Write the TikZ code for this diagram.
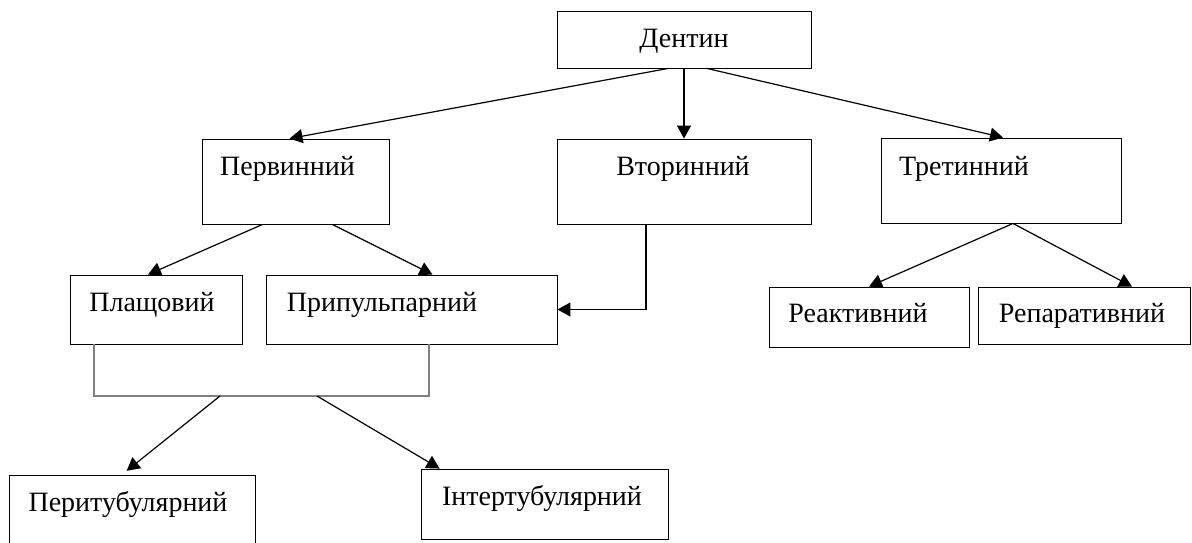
\documentclass[tikz,border=0pt]{standalone}
\usepackage{fontspec}
\setmainfont{Liberation Serif}
\usetikzlibrary{positioning, arrows.meta, calc}

\begin{document}
\begin{tikzpicture}[
  x=1pt, y=-1pt,
  box/.style={draw, line width=0.9pt, inner sep=0pt},
  txt/.style={inner sep=0pt, text height=18.5pt, text depth=0pt, font=\fontsize{28}{33}\selectfont},
  arrow/.style={-{Triangle[length=13pt, width=14pt]}, line width=1.2pt},
  link/.style={line width=1.2pt, draw=gray}
]
  \useasboundingbox (0,0) rectangle (1192,542);

  % boxes
  \node[box, minimum width=254pt, minimum height=57pt] (dent) at (684,39.5) {};
  \node[box, minimum width=187pt, minimum height=85pt] (perv) at (295.5,181.5) {};
  \node[box, minimum width=254pt, minimum height=85pt] (vtor) at (684,181.5) {};
  \node[box, minimum width=240pt, minimum height=85pt] (tret) at (1001,180.5) {};
  \node[box, minimum width=172pt, minimum height=69pt] (plasch) at (156,309.5) {};
  \node[box, minimum width=291pt, minimum height=69pt] (prip) at (411.5,309.5) {};
  \node[box, minimum width=200pt, minimum height=60pt] (react) at (869,317) {};
  \node[box, minimum width=212pt, minimum height=57pt] (repar) at (1084,315.5) {};
  \node[box, minimum width=246pt, minimum height=72pt] (peri) at (132,511) {};
  \node[box, minimum width=247pt, minimum height=70pt] (inter) at (544.5,504) {};

  % texts
  \node[txt] (dentT) at (684,38) {Дентин};
  \node[txt] (pervT) at (287.5,166.5) {Первинний};
  \node[txt] (vtorT) at (683,166.5) {Вторинний};
  \node[txt] (tretT) at (964,166.5) {Третинний};
  \node[txt] (plaschT) at (152,302) {Плащовий};
  \node[txt] (pripT) at (382,302) {Припульпарний};
  \node[txt] (reactT) at (858,313) {Реактивний};
  \node[txt] (reparT) at (1082,313) {Репаративний};
  \node[txt] (periT) at (128,502.5) {Перитубулярний};
  \node[txt] (interT) at (542,496) {Інтертубулярний};

  % bracket under the second row
  \coordinate (brL) at (94,396);
  \coordinate (brR) at (429,396);
  \coordinate (brA) at (220,396);
  \coordinate (brB) at (317,396);

  % arrows
  \draw[arrow] ([xshift=-16pt]dent.south) -- ([xshift=-6pt]perv.north);
  \draw[arrow] (dent.south) -- (vtor.north);
  \draw[arrow] ([xshift=23pt]dent.south) -- ([xshift=2pt]tret.north);

  \draw[arrow] ([xshift=-33pt]perv.south) -- ([xshift=-8pt]plasch.north);
  \draw[arrow] ([xshift=37pt]perv.south) -- ([xshift=21pt]prip.north);
  \draw[arrow] ([xshift=-38pt]vtor.south) |- (prip.east);

  \draw[arrow] ([xshift=12pt]tret.south) -- (react.north);
  \draw[arrow] ([xshift=12pt]tret.south) -- ([xshift=48pt]repar.north);

  \draw[link] (plasch.south -| brL) -- (brL) -- (brR) -- (brR |- prip.south);
  \draw[arrow, shorten >=6pt] (brA) -- ([xshift=-10pt]peri.north);
  \draw[arrow] (brB) -- ([xshift=19pt]inter.north west);
\end{tikzpicture}
\end{document}
